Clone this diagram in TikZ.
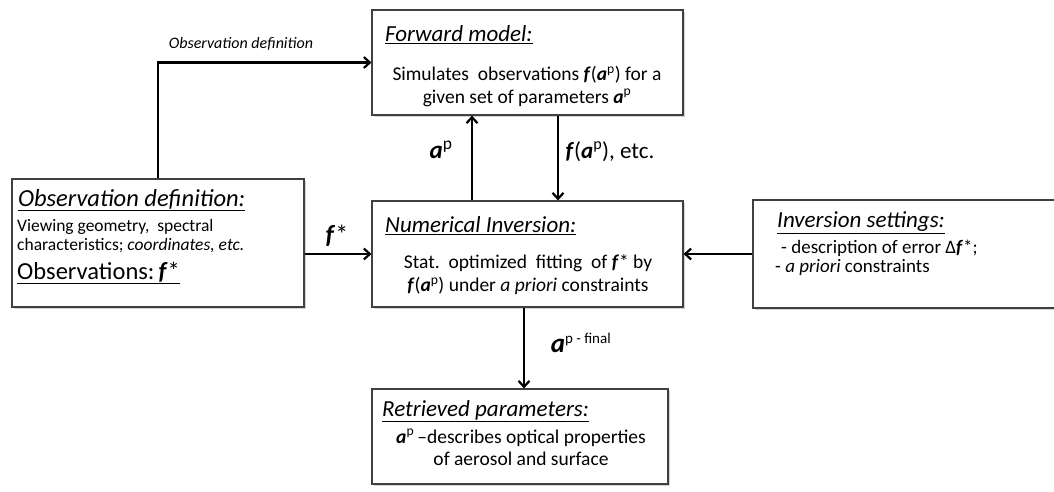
\documentclass[tikz,border=0pt]{standalone}
\usepackage{fontspec}
\setmainfont{Carlito}
\usetikzlibrary{arrows.meta,shadows}
\newcommand\bfa{\textbf{\textit{a}}}
\newcommand\bff{\textbf{\textit{f}}}
\newcommand\sz[1]{\fontsize{#1}{#1}\selectfont}
\begin{document}
\begin{tikzpicture}[x=1pt,y=-1pt,
  box/.style={draw=black!75, line width=1.1pt, fill=white, inner sep=0pt,
    drop shadow={shadow xshift=1.5pt, shadow yshift=-2pt, opacity=0.35, fill=gray}},
  txt/.style={inner sep=0pt, text=black},
  head/.style={txt, anchor=west, font=\sz{23}\itshape},
  body/.style={txt, font=\sz{19.5}},
  lab/.style={txt, font=\sz{23}},
  arr/.style={line width=2.4pt, -{Straight Barb[length=6pt,width=11pt,line width=2.2pt]}}]
\useasboundingbox (0,0) rectangle (1054,491);
\clip (0,0) rectangle (1054,491);
% boxes
\node[box, minimum width=311pt, minimum height=105pt] (fwd) at (527.5,62.5) {};
\node[box, minimum width=292pt, minimum height=128pt] (obs) at (158,243) {};
\node[box, minimum width=311pt, minimum height=106pt] (num) at (527.5,254) {};
\node[box, minimum width=310pt, minimum height=108pt] (inv) at (908,254) {};
\node[box, minimum width=296pt, minimum height=95pt] (ret) at (520,436.5) {};
% forward model text
\node[head] (fwdh) at (385,35) {\underline{Forward model:}};
\node[body] (fwdb1) at (527,75) {Simulates\ \ observations \bff(\bfa\textsuperscript{p}) for a};
\node[body] (fwdb2) at (527,98) {given set of parameters \bfa\textsuperscript{p}};
% observation definition text
\node[head, font=\sz{24.5}\itshape] (obsh) at (18,200) {\underline{Observation definition:}};
\node[txt, anchor=west, font=\sz{17.5}] (obsb1) at (17,227) {Viewing geometry,\ \ spectral};
\node[txt, anchor=west, font=\sz{17.5}] (obsb2) at (17,246) {characteristics; \textit{coordinates, etc.}};
\node[txt, anchor=west, font=\sz{24.5}] (obsh2) at (17,273) {\underline{Observations:\,\bff*}};
% numerical inversion text
\node[head] (numh) at (385,226) {\underline{Numerical Inversion:}};
\node[body] (numb1) at (528,263) {Stat.\ \ optimized\ \ fitting\ \ of \bff* by};
\node[body] (numb2) at (528,286) {\bff(\bfa\textsuperscript{p}) under \textit{a priori} constraints};
% inversion settings text
\node[head] (invh) at (777,223) {\underline{Inversion settings:}};
\node[txt, anchor=west, font=\sz{19}] (invb1) at (781,248) {- description of error Δ\bff*;};
\node[txt, anchor=west, font=\sz{19}] (invb2) at (775,267) {- \textit{a priori} constraints};
% retrieved text
\node[head] (reth) at (382,411) {\underline{Retrieved parameters:}};
\node[body] (retb1) at (521,438) {\bfa\textsuperscript{p}\,--describes optical properties};
\node[body] (retb2) at (521,459) {of aerosol and surface};
% connectors
\draw[arr] (obs.north) |- (fwd.west);
\node[txt, font=\sz{16}\itshape] (lobs) at (241,44) {Observation definition};
\draw[arr] (num.north -| 472,0) -- (fwd.south -| 472,0);
\node[lab, font=\sz{25}] (lap) at (441,150) {\bfa\textsuperscript{p}};
\draw[arr] (fwd.south -| 558,0) -- (num.north -| 558,0);
\node[lab] (lfa) at (610,152) {\bff(\bfa\textsuperscript{p}), etc.};
\draw[arr] (obs.east |- num.west) -- (num.west);
\node[lab, font=\sz{26}] (lfs) at (337,236) {\bff*};
\draw[arr] (inv.west) -- (num.east);
\draw[arr] (num.south -| 524,0) -- (ret.north -| 524,0);
\node[lab, font=\sz{27}] (lfin) at (581,343) {\bfa\textsuperscript{\sz{15}p - final}};
\end{tikzpicture}
\end{document}
